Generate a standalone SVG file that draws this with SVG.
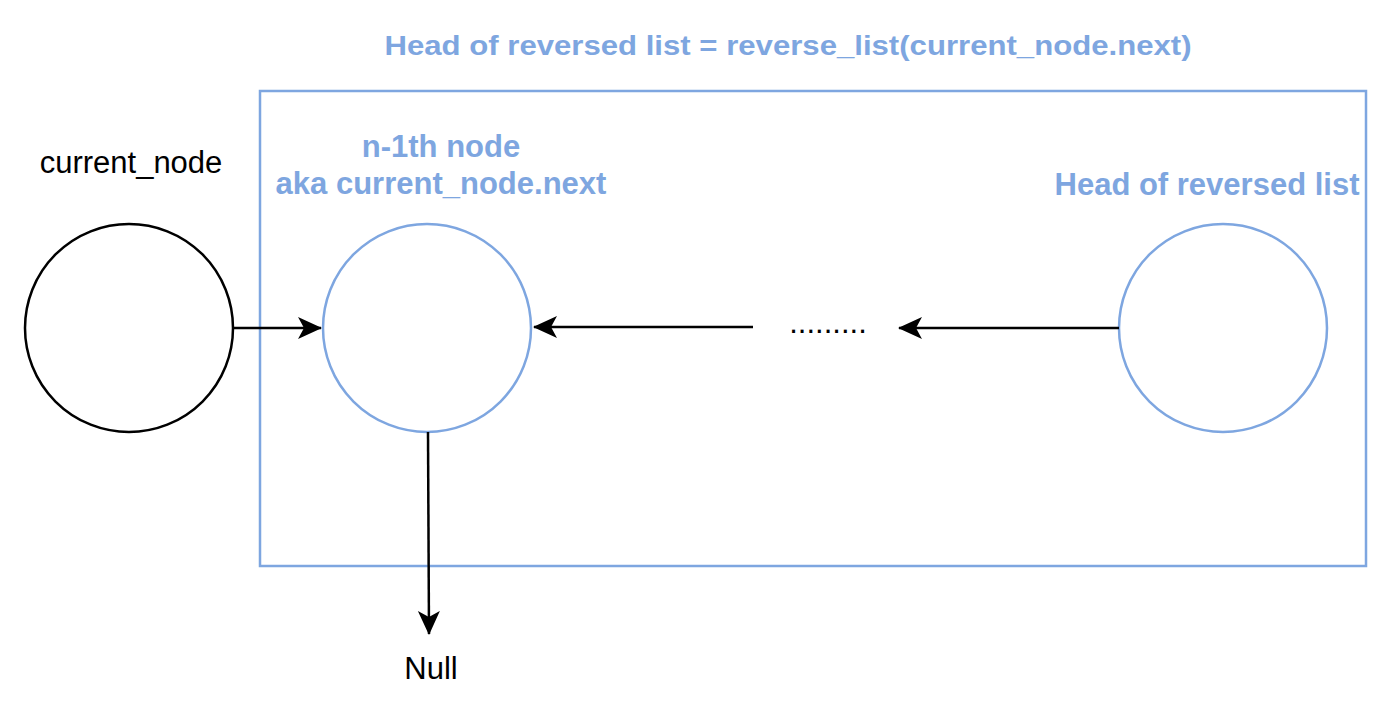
<svg xmlns="http://www.w3.org/2000/svg" width="1400" height="705" viewBox="0 0 1400 705">
<defs>
<style>
.blue{fill:none;stroke:#7EA6E0;stroke-width:2.5}
.black{fill:none;stroke:#000;stroke-width:2.5}
.edge{fill:none;stroke:#000;stroke-width:2.5}
.bt{font-family:"Liberation Sans",Arial,sans-serif;font-weight:bold;fill:#7EA6E0;font-size:31px}
.kt{font-family:"Liberation Sans",Arial,sans-serif;fill:#000;font-size:31px}
</style>
<marker id="arr" viewBox="0 0 24 24" refX="23" refY="12" markerWidth="24" markerHeight="24" markerUnits="userSpaceOnUse" orient="auto">
<path d="M0,1 L24,12 L0,23 L6,12 Z" fill="#000"/>
</marker>
</defs>
<rect width="1400" height="705" fill="#fff"/>
<g id="group-box">
<rect x="260" y="91" width="1106" height="475" class="blue"/>
<text x="788" y="55" class="bt" text-anchor="middle" style="font-size:28px" textLength="807" lengthAdjust="spacingAndGlyphs">Head of reversed list = reverse_list(current_node.next)</text>
</g>
<g id="node-current">
<circle cx="129" cy="328" r="104" class="black"/>
<text x="131" y="173" class="kt" text-anchor="middle">current_node</text>
</g>
<g id="node-n1">
<circle cx="427" cy="328" r="104" class="blue"/>
<text x="441" y="157" class="bt" text-anchor="middle">n-1th node</text>
<text x="441" y="194" class="bt" text-anchor="middle">aka current_node.next</text>
</g>
<g id="node-head">
<circle cx="1223" cy="328" r="104" class="blue"/>
<text x="1207" y="195" class="bt" text-anchor="middle">Head of reversed list</text>
</g>
<g id="node-dots">
<text x="828" y="333" class="kt" text-anchor="middle">.........</text>
</g>
<g id="node-null">
<text x="431" y="679" class="kt" text-anchor="middle">Null</text>
</g>
<g id="connectors">
<line x1="233" y1="328" x2="321" y2="328" class="edge" marker-end="url(#arr)"/>
<line x1="753" y1="327" x2="534" y2="327" class="edge" marker-end="url(#arr)"/>
<line x1="1119" y1="328" x2="899" y2="328" class="edge" marker-end="url(#arr)"/>
<line x1="428" y1="432" x2="429" y2="634" class="edge" marker-end="url(#arr)"/>
</g>
</svg>
